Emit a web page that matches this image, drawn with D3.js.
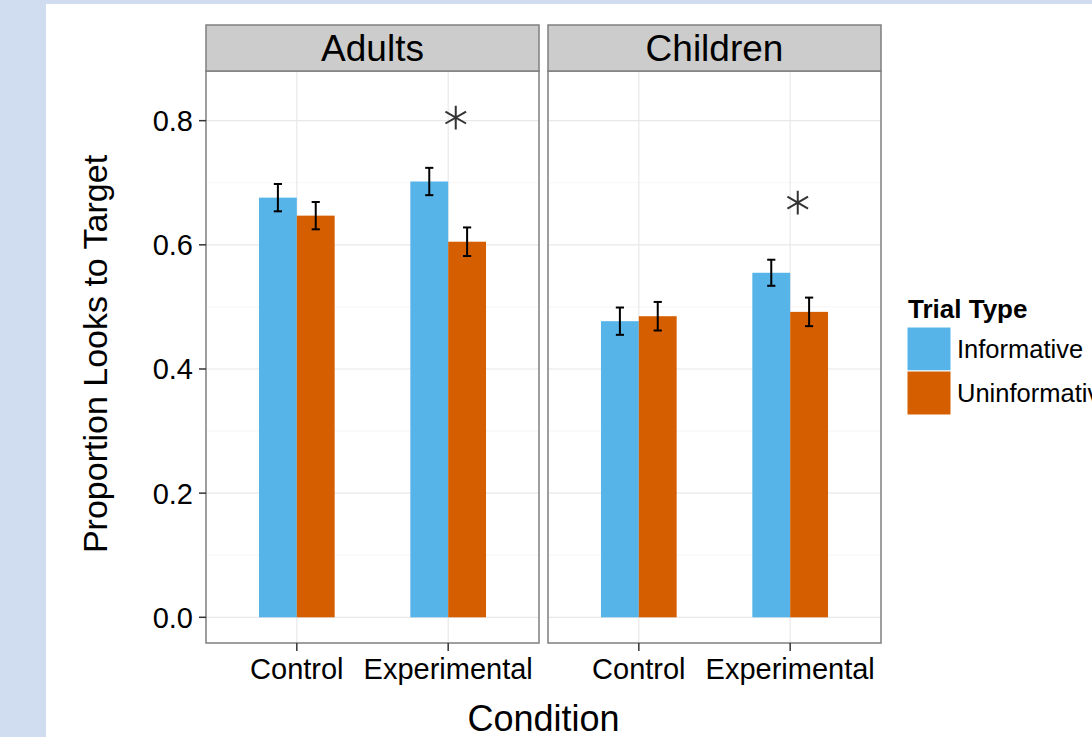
<!DOCTYPE html>
<html>
<head>
<meta charset="utf-8">
<script src="https://cdn.jsdelivr.net/npm/d3@7/dist/d3.min.js"></script>
<style>
  html, body { margin: 0; padding: 0; background: #d0dcf0; }
  svg { display: block; font-family: "Liberation Sans", Arial, Helvetica, sans-serif; }
</style>
</head>
<body>
<script>
// data
const panels = ["Adults", "Children"];
const conditions = ["Control", "Experimental"];
const trial_types = ["Informative", "Uninformative"];
const adults_means = [[0.676, 0.647], [0.702, 0.605]];
const adults_errors = [[0.022, 0.022], [0.022, 0.023]];
const children_means = [[0.477, 0.485], [0.555, 0.492]];
const children_errors = [[0.022, 0.023], [0.021, 0.023]];
const star_condition = ["Experimental", "Experimental"];
const star_y = [0.805, 0.668];
const y_ticks = [0, 0.2, 0.4, 0.6, 0.8];
const y_minor = [0.1, 0.3, 0.5, 0.7];
const colors = ["#56B4E9", "#D55E00"];

const _svg_width = 1092;
const _svg_height = 737;
const _panel_top = 71;
const _panel_bottom = 643;
const _panel_w = 333;
const _panel_x = [206, 548];
const _strip_top = 25;

const rows = [];
[adults_means, children_means].forEach((m, p) => {
    const e = p === 0 ? adults_errors : children_errors;
    conditions.forEach((c, i) => {
        trial_types.forEach((t, j) => {
            rows.push({ panel: panels[p], condition: c, type: t, value: m[i][j], err: e[i][j] });
        });
    });
});

const svg = d3.select('body')
    .append('svg')
    .attr('width', _svg_width)
    .attr('height', _svg_height);

svg.append('rect')
    .attr('x', 46).attr('y', 4)
    .attr('width', _svg_width - 46).attr('height', _svg_height - 4)
    .attr('fill', 'white');

const y = d3.scaleLinear()
    .domain([-0.0414, 0.880])
    .range([_panel_bottom, _panel_top]);

panels.forEach((name, p) => {
    const x0 = _panel_x[p];
    const x = d3.scalePoint()
        .domain(conditions)
        .range([x0, x0 + _panel_w])
        .padding(0.6);
    const step = x.step();
    const dodge = d3.scaleBand()
        .domain(trial_types)
        .range([-0.25 * step, 0.25 * step]);

    const g = svg.append('g');

    // grid
    g.selectAll('.minor').data(y_minor).join('line')
        .attr('x1', x0).attr('x2', x0 + _panel_w)
        .attr('y1', d => y(d)).attr('y2', d => y(d))
        .attr('stroke', '#f7f7f7').attr('stroke-width', 1.2);
    g.selectAll('.major').data(y_ticks).join('line')
        .attr('x1', x0).attr('x2', x0 + _panel_w)
        .attr('y1', d => y(d)).attr('y2', d => y(d))
        .attr('stroke', '#e8e8e8').attr('stroke-width', 1.2);
    g.selectAll('.vgrid').data(conditions).join('line')
        .attr('x1', d => x(d)).attr('x2', d => x(d))
        .attr('y1', _panel_top).attr('y2', _panel_bottom)
        .attr('stroke', '#e8e8e8').attr('stroke-width', 1.2);

    const data = rows.filter(r => r.panel === name);

    g.selectAll('.bar').data(data).join('rect')
        .attr('x', d => x(d.condition) + dodge(d.type))
        .attr('width', dodge.bandwidth())
        .attr('y', d => y(d.value))
        .attr('height', d => y(0) - y(d.value))
        .attr('fill', d => colors[trial_types.indexOf(d.type)]);

    // error bars
    const cap = 0.027 * step;
    const eb = g.selectAll('.eb').data(data).join('g')
        .attr('stroke', 'black').attr('stroke-width', 2);
    const cx = d => x(d.condition) + dodge(d.type) + dodge.bandwidth() / 2;
    eb.append('line')
        .attr('x1', cx).attr('x2', cx)
        .attr('y1', d => y(d.value + d.err)).attr('y2', d => y(d.value - d.err));
    eb.append('line')
        .attr('x1', d => cx(d) - cap).attr('x2', d => cx(d) + cap)
        .attr('y1', d => y(d.value + d.err)).attr('y2', d => y(d.value + d.err));
    eb.append('line')
        .attr('x1', d => cx(d) - cap).attr('x2', d => cx(d) + cap)
        .attr('y1', d => y(d.value - d.err)).attr('y2', d => y(d.value - d.err));

    // significance star
    g.append('path')
        .attr('d', d3.symbol(d3.symbolAsterisk, 400)())
        .attr('transform', `translate(${x(star_condition[p]) + 0.05 * step},${y(star_y[p])})`)
        .attr('fill', 'none')
        .attr('stroke', '#333333')
        .attr('stroke-width', 2);

    // border
    g.append('rect')
        .attr('x', x0).attr('y', _panel_top)
        .attr('width', _panel_w).attr('height', _panel_bottom - _panel_top)
        .attr('fill', 'none').attr('stroke', '#7f7f7f').attr('stroke-width', 1.5);

    // strip
    g.append('rect')
        .attr('x', x0).attr('y', _strip_top)
        .attr('width', _panel_w).attr('height', _panel_top - _strip_top)
        .attr('fill', '#cccccc').attr('stroke', '#7f7f7f').attr('stroke-width', 1.5);
    g.append('text')
        .attr('x', x0 + _panel_w / 2).attr('y', (_strip_top + _panel_top) / 2)
        .attr('dy', '0.36em')
        .attr('text-anchor', 'middle')
        .attr('font-size', 37)
        .attr('fill', 'black')
        .text(name);

    // x axis
    g.selectAll('.xt').data(conditions).join('line')
        .attr('x1', d => x(d)).attr('x2', d => x(d))
        .attr('y1', _panel_bottom).attr('y2', _panel_bottom + 8)
        .attr('stroke', '#333').attr('stroke-width', 1.5);
    g.selectAll('.xl').data(conditions).join('text')
        .attr('x', d => x(d)).attr('y', 679)
        .attr('text-anchor', 'middle')
        .attr('font-size', 29)
        .attr('fill', 'black')
        .text(d => d);
});

// y axis
const ya = svg.append('g');
ya.selectAll('line').data(y_ticks).join('line')
    .attr('x1', 199).attr('x2', _panel_x[0])
    .attr('y1', d => y(d)).attr('y2', d => y(d))
    .attr('stroke', '#333').attr('stroke-width', 1.5);
ya.selectAll('text').data(y_ticks).join('text')
    .attr('x', 193).attr('y', d => y(d))
    .attr('dy', '0.36em')
    .attr('text-anchor', 'end')
    .attr('font-size', 29)
    .attr('fill', 'black')
    .text(d3.format('.1f'));

svg.append('text')
    .attr('transform', 'translate(107,354) rotate(-90)')
    .attr('text-anchor', 'middle')
    .attr('font-size', 34)
    .attr('fill', 'black')
    .text('Proportion Looks to Target');

svg.append('text')
    .attr('x', (_panel_x[0] + _panel_x[1] + _panel_w) / 2).attr('y', 731)
    .attr('text-anchor', 'middle')
    .attr('font-size', 36)
    .attr('fill', 'black')
    .text('Condition');

// legend
const legend = svg.append('g');
legend.append('text')
    .attr('x', 908).attr('y', 318)
    .attr('font-size', 26)
    .attr('font-weight', 'bold')
    .attr('fill', 'black')
    .text('Trial Type');
const key = 44;
legend.selectAll('rect').data(trial_types).join('rect')
    .attr('x', 907).attr('y', (d, i) => 327 + i * key)
    .attr('width', key).attr('height', key)
    .attr('fill', (d, i) => colors[i])
    .attr('stroke', 'white').attr('stroke-width', 1);
legend.selectAll('.lab').data(trial_types).join('text')
    .attr('x', 957).attr('y', (d, i) => 327 + i * key + key / 2)
    .attr('dy', '0.36em')
    .attr('font-size', 25.5)
    .attr('fill', 'black')
    .text(d => d);
</script>
</body>
</html>
